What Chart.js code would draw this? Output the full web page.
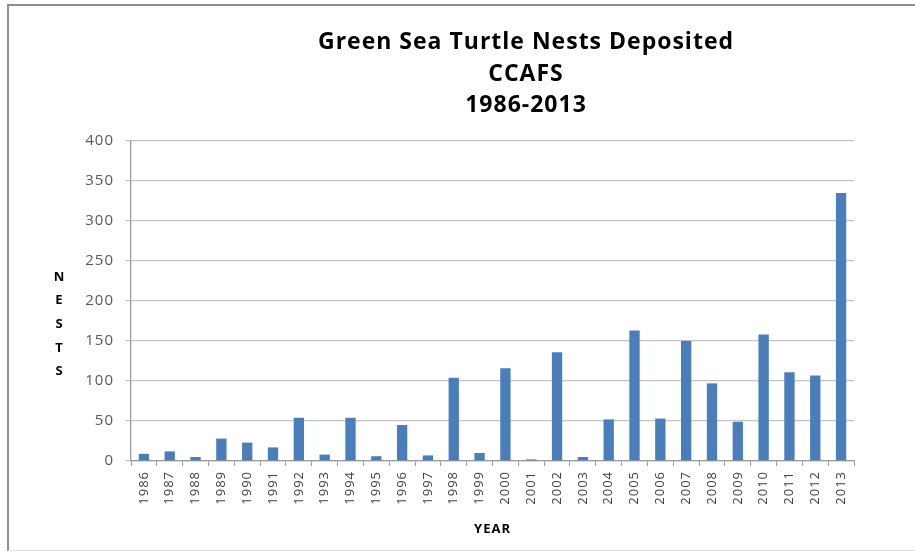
<!DOCTYPE html>
<html>
<head>
<meta charset="utf-8">
<script src="https://cdn.jsdelivr.net/npm/chart.js@4/dist/chart.umd.min.js"></script>
<style>
  html, body { margin: 0; padding: 0; background: #fff; overflow: hidden; }
  body { width: 915px; height: 556px; position: relative; }
  #frame {
    position: absolute; left: 7px; top: 4px; width: 940px; height: 544px;
    border-left: 2px solid #8f8f8f; border-top: 2px solid #8f8f8f;
    border-bottom: 1px solid #e2e2e2;
  }
  #wrap { position: absolute; left: 0; top: 0; width: 1052px; height: 556px; }
</style>
</head>
<body>
<div id="frame"></div>
<div id="wrap"><canvas id="myChart"></canvas></div>
<script>
  const years = ['1986', '1987', '1988', '1989', '1990', '1991', '1992', '1993', '1994', '1995',
    '1996', '1997', '1998', '1999', '2000', '2001', '2002', '2003', '2004', '2005',
    '2006', '2007', '2008', '2009', '2010', '2011', '2012', '2013'];
  const nests = [9, 12, 5, 28, 23, 17, 54, 8, 54, 6,
    45, 7, 104, 10, 116, 2, 136, 5, 52, 163,
    53, 150, 97, 49, 158, 111, 107, 335];
  const titleLines = ['Green Sea Turtle Nests Deposited', 'CCAFS', '1986-2013'];
  const yLetters = ['N', 'E', 'S', 'T', 'S'];

  // the source picture is a bit stretched sideways, so space the glyphs out a little
  const wideText = {
    id: 'wideText',
    beforeDraw(chart) {
      chart.ctx.letterSpacing = '1px';
    },
  };

  // vertical "NESTS" label, one letter per line
  const stackedYTitle = {
    id: 'stackedYTitle',
    afterDraw(chart) {
      const { ctx, chartArea } = chart;
      ctx.save();
      ctx.letterSpacing = '0px';
      ctx.font = 'bold 13px "Open Sans"';
      ctx.fillStyle = '#000';
      ctx.textAlign = 'center';
      ctx.textBaseline = 'middle';
      yLetters.forEach((l, i) => {
        ctx.fillText(l, 59, chartArea.top + 136 + i * 23.7);
      });
      ctx.restore();
    },
  };

  const data = {
    labels: years,
    datasets: [
      {
        label: 'Nests',
        data: nests,
        backgroundColor: '#4A7EBB',
        barPercentage: 0.4,
        categoryPercentage: 1,
      },
    ],
  };

  const config = {
    type: 'bar',
    data,
    options: {
      responsive: true,
      maintainAspectRatio: false,
      animation: false,
      layout: { padding: 0 },
      plugins: {
        legend: { display: false },
        tooltip: { enabled: false },
        title: {
          display: true,
          text: titleLines,
          color: '#000',
          font: { family: 'Open Sans', size: 23, weight: 'bold', lineHeight: 1.39 },
          padding: { top: 26, bottom: 19 },
        },
      },
      scales: {
        x: {
          grid: { drawOnChartArea: false, drawTicks: true, tickLength: 5, color: '#9a9a9a', offset: true },
          border: { color: '#9a9a9a', width: 1.3 },
          ticks: {
            color: '#404040',
            font: { family: 'Open Sans', size: 13 },
            minRotation: 90,
            maxRotation: 90,
            autoSkip: false,
            padding: 5,
          },
          title: {
            display: true,
            text: 'YEAR',
            color: '#000',
            font: { family: 'Open Sans', size: 13, weight: 'bold', lineHeight: 1.2 },
            padding: { top: 0, bottom: 19 },
          },
          afterFit(scale) { scale.height = 95; },
        },
        y: {
          min: 0,
          max: 400,
          grid: { color: '#c4c4c4', lineWidth: 1.3, tickLength: 5 },
          border: { color: '#9a9a9a', width: 1.3 },
          ticks: {
            stepSize: 50,
            color: '#595959',
            font: { family: 'Open Sans', size: 15 },
            padding: 12,
          },
          afterFit(scale) { scale.width = 131; },
        },
        // empty box on the right so the title centres where the original does
        spacer: {
          type: 'linear',
          position: 'right',
          display: true,
          grid: { display: false },
          border: { display: false },
          ticks: { display: false },
          afterFit(scale) { scale.width = 198; },
        },
      },
    },
    plugins: [wideText, stackedYTitle],
  };

  const ctx = document.getElementById('myChart').getContext('2d');
  const myChart = new Chart(ctx, config);
</script>
</body>
</html>
